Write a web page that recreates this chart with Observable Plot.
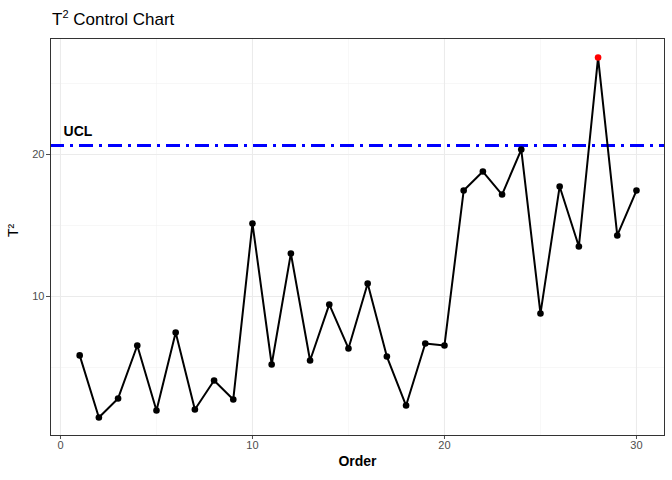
<!DOCTYPE html>
<html>
<head>
<meta charset="utf-8">
<script src="https://cdn.jsdelivr.net/npm/d3@7"></script>
<script src="https://cdn.jsdelivr.net/npm/@observablehq/plot@0.6"></script>
<style>
  body { margin: 0; background: #fff; font-family: "Liberation Sans", Arial, sans-serif; }
  #wrap { position: relative; width: 672px; height: 480px; }
  #title { position: absolute; left: 52px; top: 8px; font-size: 17px; color: #000; }
  #chart { position: absolute; left: 0; top: 0; }
</style>
</head>
<body>
<div id="wrap">
  <div id="chart"></div>
  <div id="title">T<sup style="font-size:11px">2</sup> Control Chart</div>
</div>
<script>
const order = d3.range(1, 31);
const t2 = [5.85, 1.48, 2.82, 6.55, 1.97, 7.46, 2.04, 4.08, 2.75, 15.14,
  5.21, 13.03, 5.49, 9.44, 6.34, 10.92, 5.77, 2.32, 6.69, 6.55,
  17.46, 18.8, 17.18, 20.35, 8.8, 17.75, 13.52, 26.83, 14.3, 17.46];
const ucl = 20.63;
const xTicks = [0, 10, 20, 30];
const yTicks = [10, 20];
const xMinor = [5, 15, 25];
const yMinor = [5, 15, 25];

const data = order.map((o, i) => ({ order: o, t2: t2[i], out: t2[i] > ucl }));

document.getElementById("chart").appendChild(
  Plot.plot({
    width: 672,
    height: 480,
    marginLeft: 50,
    marginRight: 8,
    marginTop: 38,
    marginBottom: 45,
    style: { fontFamily: "Liberation Sans, Arial, sans-serif", fontSize: "11px" },
    x: { domain: [-0.52, 31.46], ticks: xTicks, label: "Order", labelAnchor: "center", labelArrow: "none" },
    y: { domain: [0.21, 28.17], ticks: yTicks, label: "T²", labelAnchor: "center", labelArrow: "none" },
    marks: [
      Plot.ruleX(xMinor, { stroke: "#f2f2f2", strokeWidth: 0.6 }),
      Plot.ruleY(yMinor, { stroke: "#f2f2f2", strokeWidth: 0.6 }),
      Plot.ruleX(xTicks, { stroke: "#ebebeb", strokeWidth: 1.1 }),
      Plot.ruleY(yTicks, { stroke: "#ebebeb", strokeWidth: 1.1 }),
      Plot.axisX({ ticks: xTicks, tickSize: 4, tickPadding: 2, color: "#4d4d4d", label: null }),
      Plot.axisY({ ticks: yTicks, tickSize: 4, tickPadding: 2, color: "#4d4d4d", label: null }),
      Plot.text(["Order"], { frameAnchor: "bottom", dy: 30, fontWeight: "bold", fontSize: 14, fill: "#000" }),
      Plot.text(["T²"], { frameAnchor: "left", dx: -37, rotate: -90, fontSize: 14, fill: "#000" }),
      Plot.ruleY([ucl], { stroke: "blue", strokeWidth: 3, strokeDasharray: "14,6,3,6" }),
      Plot.text(["UCL"], { x: 0.16, y: ucl + 1.0, textAnchor: "start", fontWeight: "bold", fontSize: 14, fill: "#000" }),
      Plot.line(data, { x: "order", y: "t2", stroke: "#000", strokeWidth: 2 }),
      Plot.dot(data, { x: "order", y: "t2", r: 3.3, fill: d => d.out ? "red" : "#000", stroke: null }),
      Plot.frame({ stroke: "#333", strokeWidth: 1 })
    ]
  })
);
</script>
</body>
</html>
